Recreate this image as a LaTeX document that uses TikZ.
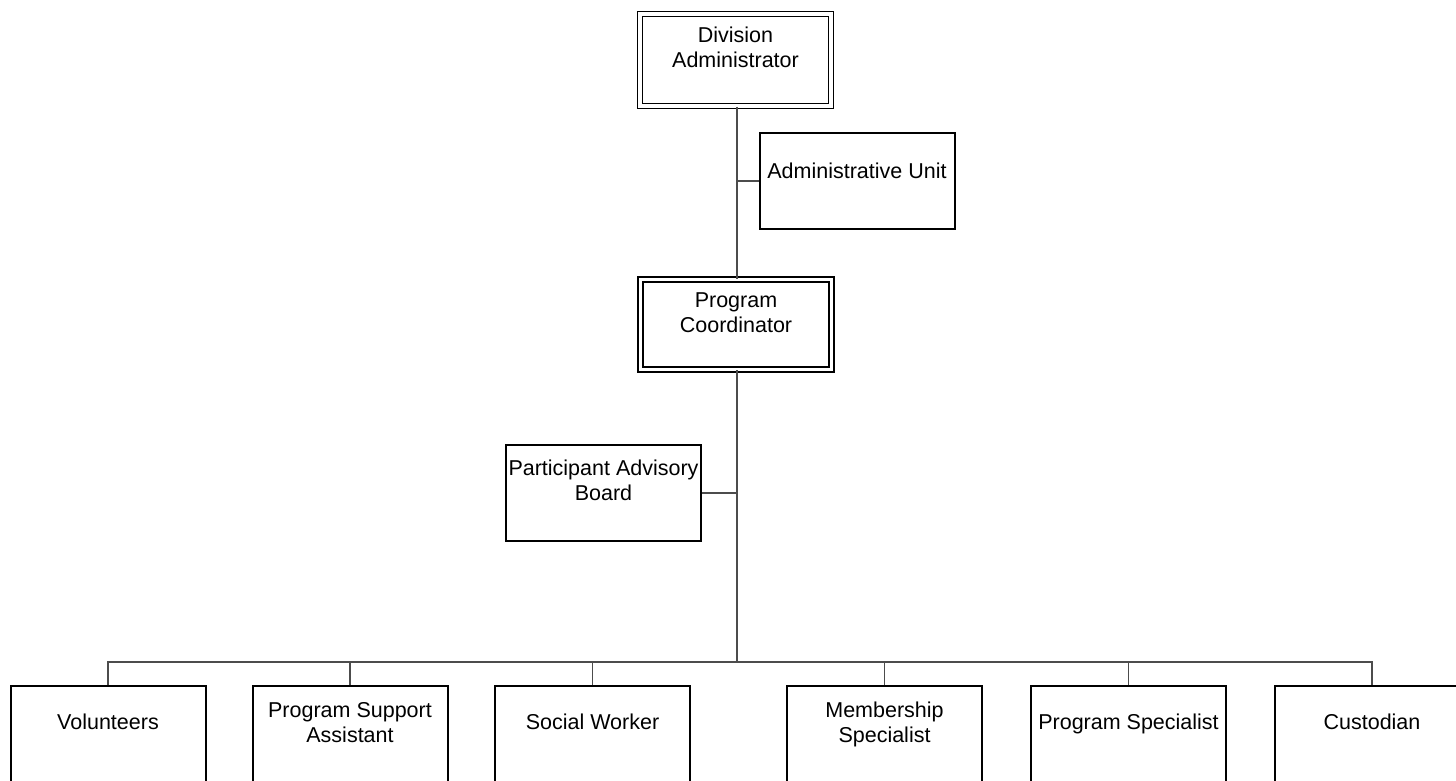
\documentclass[tikz,border=0pt]{standalone}
\usepackage{fontspec}
\setmainfont{Liberation Sans}
\usetikzlibrary{calc}
\begin{document}
\begin{tikzpicture}[x=1pt,y=-1pt,
  unitbox/.style={draw, line width=2pt, minimum width=195pt, minimum height=96pt, inner sep=0pt},
  headbox/.style={draw, line width=1.7pt, double, double distance=3.4pt, minimum width=191pt, inner sep=0pt},
  staffbox/.style={unitbox, minimum height=120pt},
  lbl/.style={font=\fontsize{21.5}{25}\selectfont, align=center, inner sep=0pt},
  link/.style={draw=black!70, line width=1.2pt}]
\useasboundingbox (0,0) rectangle (1456,780);
\clip (0,0) rectangle (1456,780);

% reporting trunk and staff bus
\coordinate (trunk) at (737,0);
\coordinate (bus) at (0,662);

% leadership
\node[headbox, minimum height=92pt] (da) at (735.5,60) {};
\node[lbl] (da-t) at (735.5,50) {\strut Division\\\strut Administrator};
\node[headbox, minimum height=90pt] (pc) at (736,324.5) {};
\node[lbl] (pc-t) at (736,315) {\strut Program\\\strut Coordinator};

% side units
\node[unitbox] (au) at (857,181) {};
\node[lbl] (au-t) at (857,173.4) {\strut Administrative Unit};
\node[unitbox] (pab) at (603.5,493) {};
\node[lbl] (pab-t) at (603.5,483) {\strut Participant Advisory\\\strut Board};

% staff row
\node[staffbox] (vol)  at (108,746) {};
\node[staffbox] (psa)  at (350,746) {};
\node[staffbox] (sw)   at (592.5,746) {};
\node[staffbox] (ms)   at (884.5,746) {};
\node[staffbox] (ps)   at (1128.5,746) {};
\node[staffbox] (cust) at (1372,746) {};
\node[lbl] (vol-t)  at (108,724.5) {\strut Volunteers};
\node[lbl] (psa-t)  at (350,724.5) {\strut Program Support\\\strut Assistant};
\node[lbl] (sw-t)   at (592.5,724.5) {\strut Social Worker};
\node[lbl] (ms-t)   at (884.5,724.5) {\strut Membership\\\strut Specialist};
\node[lbl] (ps-t)   at (1128.5,724.5) {\strut Program Specialist};
\node[lbl] (cust-t) at (1372,724.5) {\strut Custodian};

% connectors
\draw[link] (da.south -| trunk) -- (pc.north -| trunk);
\draw[link] (au.west) -- (au.west -| trunk);
\draw[link] (pab.east) -- (pab.east -| trunk);
\draw[link] (pc.south -| trunk) -- (trunk |- bus);
\draw[link] (vol.north) -- (vol.north |- bus) -- (cust.north |- bus) -- (cust.north);
\foreach \n in {psa,sw,ms,ps}
  \draw[link] (\n.north) -- (\n.north |- bus);
\end{tikzpicture}
\end{document}
